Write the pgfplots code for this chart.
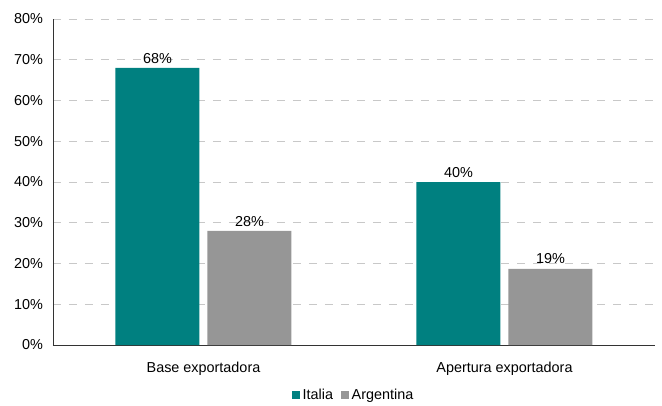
\documentclass[border=0pt]{standalone}
\usepackage{pgfplots}
\pgfplotsset{compat=1.18}
\usepackage{fontspec}
\setmainfont{Liberation Sans}
\definecolor{teal1}{RGB}{0,128,128}
\definecolor{gray1}{RGB}{150,150,150}
\definecolor{gridc}{RGB}{200,200,200}
\begin{document}
\begin{tikzpicture}
\useasboundingbox (-39.75pt,-45pt) rectangle (456.75pt,258.75pt);
\begin{axis}[
  at={(0,0)}, anchor=south west,
  scale only axis,
  width=451.5pt, height=244.5pt,
  font=\fontsize{10.8}{13}\selectfont,
  /pgf/number format/assume math mode=true,
  ybar=6pt, bar width=63pt,
  xmin=-0.5, xmax=1.5,
  ymin=0, ymax=80,
  axis x line*=bottom, axis y line*=left,
  axis line style={draw=black!80, line width=0.6pt},
  xtick={0,1},
  xticklabels={Base exportadora, Apertura exportadora},
  x tick label style={yshift=-5pt},
  major x tick style={draw=none},
  extra x ticks={-0.5,0.5,1.5},
  extra x tick labels={},
  extra x tick style={major tick length=3pt, tick align=outside, tick style={draw=black!80, line width=0.6pt}, grid=none},
  ytick={0,10,...,80},
  yticklabels={0\%,10\%,20\%,30\%,40\%,50\%,60\%,70\%,80\%},
  y tick label style={xshift=-4pt},
  major y tick style={draw=none},
  ymajorgrids,
  grid style={dashed, gridc, line width=0.6pt, dash pattern=on 6pt off 6pt},
  point meta=explicit symbolic,
  nodes near coords,
  every node near coord/.append style={font=\fontsize{10.8}{13}\selectfont, black, yshift=0pt},
  legend style={at={(0.5,-0.1534)}, anchor=center, draw=none, legend columns=-1,
    font=\fontsize{10.8}{13}\selectfont,
    /tikz/every even column/.append style={column sep=4pt}},
  legend image code/.code={\fill[#1] (0pt,-3pt) rectangle (6pt,3pt);},
]
\addplot[fill=teal1, draw=none] coordinates {(0,68) [68\%] (1,40) [40\%]};
\addplot[fill=gray1, draw=none] coordinates {(0,28) [28\%] (1,18.7) [19\%]};
\legend{Italia, Argentina}
\end{axis}
\end{tikzpicture}
\end{document}
